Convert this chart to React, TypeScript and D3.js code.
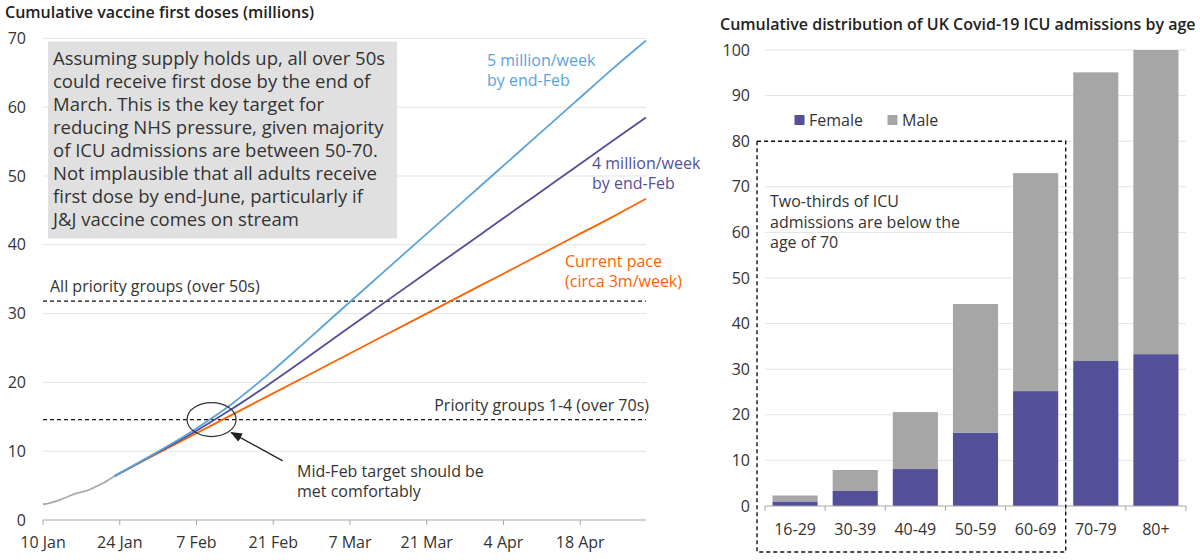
import React from 'react';
import * as d3 from 'd3';

const parse = d3.timeParse('%Y-%m-%d');

// ---------- Left chart data ----------
const historyDates = [
  '2021-01-10', '2021-01-11', '2021-01-12', '2021-01-13', '2021-01-14', '2021-01-15', '2021-01-16',
  '2021-01-17', '2021-01-18', '2021-01-19', '2021-01-20', '2021-01-21', '2021-01-22', '2021-01-23',
];
const historyValues = [2.29, 2.43, 2.64, 2.92, 3.23, 3.56, 3.86, 4.06, 4.27, 4.61, 4.97, 5.38, 5.86, 6.35];

const projectionDates = [
  '2021-01-23', '2021-01-30', '2021-02-06', '2021-02-13', '2021-02-20', '2021-02-27', '2021-03-06',
  '2021-03-13', '2021-03-20', '2021-03-27', '2021-04-03', '2021-04-10', '2021-04-17', '2021-04-24', '2021-04-30',
];
const currentPace = [6.35, 9.3, 12.2, 15.1, 18.0, 20.9, 23.8, 26.7, 29.6, 32.5, 35.4, 38.3, 41.2, 44.1, 46.7];
const fourMillion = [6.35, 9.4, 12.5, 15.9, 19.6, 23.5, 27.5, 31.45, 35.4, 39.35, 43.3, 47.25, 51.2, 55.15, 58.5];
const fiveMillion = [6.35, 9.5, 12.8, 16.6, 21.1, 26.0, 31.0, 35.95, 40.9, 45.85, 50.8, 55.75, 60.7, 65.65, 69.7];

const xTickDates = ['2021-01-10', '2021-01-24', '2021-02-07', '2021-02-21', '2021-03-07', '2021-03-21', '2021-04-04', '2021-04-18'];
const xTickLabels = ['10 Jan', '24 Jan', '7 Feb', '21 Feb', '7 Mar', '21 Mar', '4 Apr', '18 Apr'];
const leftYTicks = [0, 10, 20, 30, 40, 50, 60, 70];

const thresholdLabels = ['All priority groups (over 50s)', 'Priority groups 1-4 (over 70s)'];
const thresholdValues = [31.8, 14.6];

const boxText = [
  'Assuming supply holds up, all over 50s',
  'could receive first dose by the end of',
  'March. This is the key target for',
  'reducing NHS pressure, given majority',
  'of ICU admissions are between 50-70.',
  'Not implausible that all adults receive',
  'first dose by end-June, particularly if',
  'J&J vaccine comes on stream',
];

// ---------- Right chart data ----------
const ageGroups = ['16-29', '30-39', '40-49', '50-59', '60-69', '70-79', '80+'];
const femaleCum = [1.0, 3.3, 8.1, 16.1, 25.2, 31.8, 33.3];
const maleCum = [1.3, 4.6, 12.5, 28.2, 47.8, 63.3, 66.7];
const rightYTicks = [0, 10, 20, 30, 40, 50, 60, 70, 80, 90, 100];
const noteText = ['Two-thirds of ICU', 'admissions are below the', 'age of 70'];

const FONT = '"Open Sans", "Noto Sans", sans-serif';
const TEXT = '#333333';
const GRID = '#e3e3e3';
const AXIS = '#a6a6a6';
const BLUE = '#5ba3da';
const PURPLE = '#524f99';
const ORANGE = '#ff6200';
const GREY_LINE = '#aaaaaa';
const FEMALE = '#544f99';
const MALE = '#a6a6a6';
const FS = 16;

export default function App() {
  // left scales
  const x = d3.scaleTime().domain([parse('2021-01-10')!, parse('2021-04-30')!]).range([43, 646]);
  const y = d3.scaleLinear().domain([0, 70]).range([520, 38.4]);

  const line = d3
    .line<[Date, number]>()
    .x((d) => x(d[0]))
    .y((d) => y(d[1]))
    .curve(d3.curveMonotoneX);

  const hist: [Date, number][] = historyDates.map((d, i) => [parse(d)!, historyValues[i]]);
  const proj = (vals: number[]): [Date, number][] => projectionDates.map((d, i) => [parse(d)!, vals[i]]);

  // right scales
  const xb = d3.scaleBand<string>().domain(ageGroups).range([765, 1186]).paddingInner(0.25).paddingOuter(0.125);
  const yr = d3.scaleLinear().domain([0, 100]).range([506, 50]);
  const step = xb.step();
  const boundaries = d3.range(ageGroups.length + 1).map((i) => 765 + i * step);

  // annotation positions (data coordinates)
  const ellipseC = { date: parse('2021-02-09')!, v: 14.6 };
  const ellipseCx = x(new Date(ellipseC.date.getTime() + 0.75 * 864e5));
  const ellipseCy = y(ellipseC.v);
  const arrowFrom = [x(parse('2021-02-22')!) + 4, y(8.6)];
  const arrowTo = [x(parse('2021-02-13')!) + 2, y(12.7)];

  const dashBoxLeft = 757;
  const dashBoxRight = (xb('60-69') as number) + xb.bandwidth() + (step - xb.bandwidth()) / 2;

  return (
    <svg
      width={1200}
      height={560}
      style={{ position: 'absolute', left: 0, top: 0, background: '#fff' }}
      fontFamily={FONT}
    >
      <defs>
        <marker id="arrowhead" viewBox="0 0 10 10" refX="9" refY="5" markerWidth="9" markerHeight="9" orient="auto">
          <path d="M0,1 L10,5 L0,9 z" fill="#222" />
        </marker>
      </defs>

      {/* ===== LEFT CHART ===== */}
      <text x={5} y={18} fontSize={16} fontWeight={600} fill="#222">
        Cumulative vaccine first doses (millions)
      </text>

      {leftYTicks.map((t) => (
        <g key={'ly' + t}>
          {t > 0 && <line x1={43} x2={646} y1={y(t)} y2={y(t)} stroke={GRID} strokeWidth={1} />}
          <text x={26} y={y(t) + 5.5} textAnchor="end" fontSize={FS} fill={TEXT}>
            {t}
          </text>
        </g>
      ))}

      {/* annotation box */}
      <rect x={48} y={41.5} width={349} height={197} fill="#e0e0e0" />
      {boxText.map((s, i) => (
        <text key={'bt' + i} x={53} y={64.5 + i * 23.1} fontSize={18.5} fill={TEXT}>
          {s}
        </text>
      ))}

      {/* threshold lines */}
      {thresholdValues.map((v, i) => (
        <line
          key={'th' + i}
          x1={43}
          x2={646}
          y1={y(v)}
          y2={y(v)}
          stroke="#111"
          strokeWidth={1.3}
          strokeDasharray="4,3"
        />
      ))}
      <text x={50} y={y(thresholdValues[0]) - 9} fontSize={FS} fill={TEXT}>
        {thresholdLabels[0]}
      </text>
      <text x={649} y={y(thresholdValues[1]) - 9} textAnchor="end" fontSize={FS} fill={TEXT}>
        {thresholdLabels[1]}
      </text>

      {/* x axis */}
      <line x1={43} x2={646} y1={520} y2={520} stroke={AXIS} strokeWidth={1} />
      {xTickDates.map((d, i) => (
        <g key={'xt' + i}>
          <line x1={x(parse(d)!)} x2={x(parse(d)!)} y1={520} y2={525} stroke={AXIS} />
          <text x={x(parse(d)!)} y={548} textAnchor="middle" fontSize={FS} fill={TEXT}>
            {xTickLabels[i]}
          </text>
        </g>
      ))}

      {/* lines */}
      <path d={line(proj(currentPace))!} fill="none" stroke={ORANGE} strokeWidth={1.8} />
      <path d={line(proj(fourMillion))!} fill="none" stroke={PURPLE} strokeWidth={1.8} />
      <path d={line(proj(fiveMillion))!} fill="none" stroke={BLUE} strokeWidth={1.8} />
      <path d={line(hist)!} fill="none" stroke={GREY_LINE} strokeWidth={1.8} />

      {/* line labels */}
      <text x={487} y={66} fontSize={FS} fill={BLUE}>5 million/week</text>
      <text x={487} y={86} fontSize={FS} fill={BLUE}>by end-Feb</text>
      <text x={592} y={169} fontSize={FS} fill={PURPLE}>4 million/week</text>
      <text x={592} y={189} fontSize={FS} fill={PURPLE}>by end-Feb</text>
      <text x={565} y={267} fontSize={FS} fill={ORANGE}>Current pace</text>
      <text x={565} y={287} fontSize={FS} fill={ORANGE}>(circa 3m/week)</text>

      {/* ellipse + arrow annotation */}
      <ellipse cx={ellipseCx} cy={ellipseCy} rx={24.5} ry={17} fill="none" stroke="#333" strokeWidth={1.2} />
      <line
        x1={arrowFrom[0]}
        y1={arrowFrom[1]}
        x2={arrowTo[0]}
        y2={arrowTo[1]}
        stroke="#222"
        strokeWidth={1.3}
        markerEnd="url(#arrowhead)"
      />
      <text x={297} y={477} fontSize={FS} fill={TEXT}>Mid-Feb target should be</text>
      <text x={297} y={497} fontSize={FS} fill={TEXT}>met comfortably</text>

      {/* ===== RIGHT CHART ===== */}
      <text x={720} y={30} fontSize={16} fontWeight={600} fill="#222">
        Cumulative distribution of UK Covid-19 ICU admissions by age
      </text>

      {rightYTicks.map((t) => (
        <g key={'ry' + t}>
          {t > 0 && <line x1={765} x2={1186} y1={yr(t)} y2={yr(t)} stroke={GRID} strokeWidth={1} />}
          <text x={750} y={yr(t) + 5.5} textAnchor="end" fontSize={FS} fill={TEXT}>
            {t}
          </text>
        </g>
      ))}

      {ageGroups.map((g, i) => {
        const bx = xb(g) as number;
        const bw = xb.bandwidth();
        const f = femaleCum[i];
        const m = maleCum[i];
        return (
          <g key={'bar' + g}>
            <rect x={bx} y={yr(f)} width={bw} height={yr(0) - yr(f)} fill={FEMALE} />
            <rect x={bx} y={yr(f + m)} width={bw} height={yr(f) - yr(f + m)} fill={MALE} />
          </g>
        );
      })}

      <line x1={765} x2={1186} y1={506} y2={506} stroke={AXIS} />
      {boundaries.map((bx, i) => (
        <line key={'bt' + i} x1={bx} x2={bx} y1={506} y2={511} stroke={AXIS} />
      ))}
      {ageGroups.map((g) => (
        <text
          key={'xl' + g}
          x={(xb(g) as number) + xb.bandwidth() / 2}
          y={535}
          textAnchor="middle"
          fontSize={FS}
          fill={TEXT}
        >
          {g}
        </text>
      ))}

      {/* legend */}
      <rect x={794.5} y={115} width={10} height={10} fill={FEMALE} />
      <text x={809} y={125.5} fontSize={FS} fill={TEXT}>Female</text>
      <rect x={887.5} y={115} width={10} height={10} fill={MALE} />
      <text x={902} y={125.5} fontSize={FS} fill={TEXT}>Male</text>

      {/* dashed box */}
      <rect
        x={dashBoxLeft}
        y={yr(80)}
        width={dashBoxRight - dashBoxLeft}
        height={552 - yr(80)}
        fill="none"
        stroke="#111"
        strokeWidth={1.4}
        strokeDasharray="4,3"
      />
      {noteText.map((s, i) => (
        <text key={'nt' + i} x={770} y={207 + i * 20.5} fontSize={FS} fill={TEXT}>
          {s}
        </text>
      ))}
    </svg>
  );
}
